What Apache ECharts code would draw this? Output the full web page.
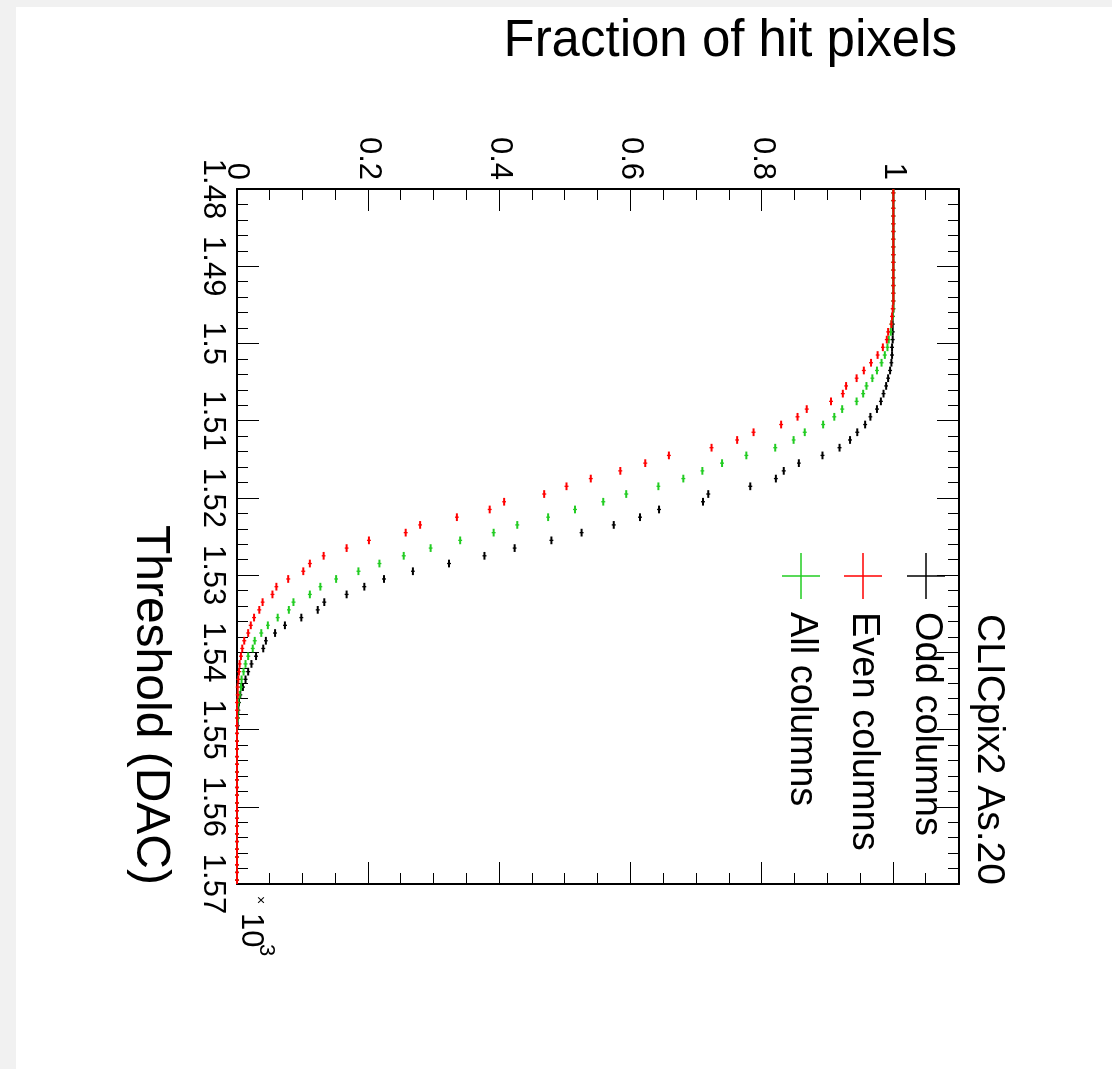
<!DOCTYPE html>
<html>
<head>
<meta charset="utf-8">
<title>Fraction of hit pixels</title>
<script src="https://cdn.jsdelivr.net/npm/echarts@6.0.0/dist/echarts.min.js"></script>
<style>
    html, body { margin: 0; padding: 0; background: #f1f1f1; }
    /* white ROOT canvas with the grey window edge left and top */
    #pad { position: absolute; left: 16px; top: 7px; width: 1096px; height: 1062px; background: #fff; overflow: hidden; }
    /* the plot is drawn upright, then turned 90deg clockwise like the original */
    #threshold-chart-1 {
        position: absolute; left: 0; top: 0;
        width: 1062px; height: 1096px;
        transform-origin: 0 0;
        transform: translate(1096px, 0) rotate(90deg);
    }
</style>
</head>
<body>
<div id="pad"><div id="threshold-chart-1"></div></div>
<script>
// Threshold scan, CLICpix2 As.20

// bin centres (DAC)
const thresholds = [
    1480.5, 1481.5, 1482.5, 1483.5, 1484.5, 1485.5, 1486.5, 1487.5, 1488.5, 1489.5,
    1490.5, 1491.5, 1492.5, 1493.5, 1494.5, 1495.5, 1496.5, 1497.5, 1498.5, 1499.5,
    1500.5, 1501.5, 1502.5, 1503.5, 1504.5, 1505.5, 1506.5, 1507.5, 1508.5, 1509.5,
    1510.5, 1511.5, 1512.5, 1513.5, 1514.5, 1515.5, 1516.5, 1517.5, 1518.5, 1519.5,
    1520.5, 1521.5, 1522.5, 1523.5, 1524.5, 1525.5, 1526.5, 1527.5, 1528.5, 1529.5,
    1530.5, 1531.5, 1532.5, 1533.5, 1534.5, 1535.5, 1536.5, 1537.5, 1538.5, 1539.5,
    1540.5, 1541.5, 1542.5, 1543.5, 1544.5, 1545.5, 1546.5, 1547.5, 1548.5, 1549.5,
    1550.5, 1551.5, 1552.5, 1553.5, 1554.5, 1555.5, 1556.5, 1557.5, 1558.5, 1559.5,
    1560.5, 1561.5, 1562.5, 1563.5, 1564.5, 1565.5, 1566.5, 1567.5, 1568.5, 1569.5
];

// fraction of hit pixels per bin
const oddColumns = [
    1, 1, 1, 1, 1, 1, 1, 1, 1, 1,
    1, 1, 1, 1, 1, 1, 0.999, 0.999, 0.999, 0.999,
    0.998, 0.998, 0.997, 0.995, 0.992, 0.989, 0.985, 0.981, 0.975, 0.965,
    0.957, 0.945, 0.934, 0.918, 0.892, 0.856, 0.833, 0.821, 0.782, 0.718,
    0.710, 0.643, 0.614, 0.574, 0.525, 0.479, 0.423, 0.377, 0.323, 0.268,
    0.224, 0.194, 0.167, 0.133, 0.123, 0.098, 0.073, 0.058, 0.044, 0.040,
    0.029, 0.022, 0.017, 0.013, 0.009, 0.005, 0.003, 0.002, 0.001, 0.001,
    0, 0, 0, 0, 0, 0, 0, 0, 0, 0,
    0, 0, 0, 0, 0, 0, 0, 0, 0, 0
];
const evenColumns = [
    1, 1, 1, 1, 1, 1, 1, 1, 1, 1,
    1, 1, 1, 1, 1, 0.999, 0.998, 0.997, 0.992, 0.990,
    0.984, 0.976, 0.966, 0.955, 0.944, 0.928, 0.923, 0.905, 0.868, 0.854,
    0.829, 0.787, 0.762, 0.723, 0.658, 0.622, 0.584, 0.539, 0.502, 0.468,
    0.407, 0.385, 0.335, 0.279, 0.257, 0.201, 0.167, 0.132, 0.111, 0.101,
    0.078, 0.060, 0.054, 0.039, 0.034, 0.026, 0.021, 0.017, 0.011, 0.008,
    0.006, 0.004, 0.003, 0.002, 0.001, 0.001, 0, 0, 0, 0,
    0, 0, 0, 0, 0, 0, 0, 0, 0, 0,
    0, 0, 0, 0, 0, 0, 0, 0, 0, 0
];
const allColumns = [
    1, 1, 1, 1, 1, 1, 1, 1, 1, 1,
    1, 1, 1, 1, 1, 1, 0.999, 0.997, 0.996, 0.993,
    0.991, 0.987, 0.982, 0.975, 0.968, 0.959, 0.954, 0.944, 0.922, 0.910,
    0.893, 0.865, 0.848, 0.820, 0.776, 0.739, 0.709, 0.680, 0.642, 0.593,
    0.558, 0.515, 0.474, 0.427, 0.391, 0.340, 0.295, 0.254, 0.217, 0.185,
    0.151, 0.127, 0.111, 0.086, 0.079, 0.062, 0.047, 0.037, 0.027, 0.024,
    0.017, 0.013, 0.010, 0.007, 0.006, 0.004, 0.002, 0.001, 0.001, 0,
    0, 0, 0, 0, 0, 0, 0, 0, 0, 0,
    0, 0, 0, 0, 0, 0, 0, 0, 0, 0
];

const seriesNames = ['Odd columns', 'Even columns', 'All columns'];
const seriesColors = ['#000000', '#ff0000', '#22cc22'];
const legendHeader = 'CLICpix2 As.20';

const binHalf = 0.5;     // half bin width (DAC)
const fracErr = 0.003;   // small error bar on the fraction

const FONT = '"Liberation Sans", Arial, Helvetica, sans-serif';

// one "+" per bin: bin width along x, error bar along y
function renderBin(params, api) {
    const t = api.value(0), f = api.value(1);
    const a = api.coord([t - binHalf, f]);
    const b = api.coord([t + binHalf, f]);
    const lo = api.coord([t, f - fracErr]);
    const hi = api.coord([t, f + fracErr]);
    const style = { stroke: api.visual('color'), lineWidth: 2 };
    return {
        type: 'group',
        children: [
            { type: 'line', shape: { x1: a[0], y1: a[1], x2: b[0], y2: b[1] }, style: style },
            { type: 'line', shape: { x1: lo[0], y1: lo[1], x2: hi[0], y2: hi[1] }, style: { stroke: api.visual('color'), lineWidth: 1.3 } }
        ]
    };
}

function makeSeries(name, values, color) {
    return {
        type: 'custom',
        name: name,
        xAxisIndex: 0,
        yAxisIndex: 0,
        renderItem: renderBin,
        itemStyle: { color: color },
        data: thresholds.map((t, i) => [t, values[i]]),
        silent: true
    };
}

const axisLine = { show: true, onZero: false, lineStyle: { color: '#000', width: 2 } };

function thresholdAxis(position, showLabels) {
    return {
        type: 'value', position: position,
        min: 1480, max: 1570, interval: 10,
        axisLine: axisLine,
        axisTick: { show: true, inside: true, length: 22, lineStyle: { color: '#000', width: 1 } },
        minorTick: { show: true, splitNumber: 5, length: 11, lineStyle: { color: '#000', width: 1 } },
        axisLabel: {
            show: showLabels, margin: 9, color: '#000', fontSize: 31, fontFamily: FONT,
            formatter: v => String(v / 1000)
        },
        splitLine: { show: false }
    };
}

function fractionAxis(position, major, showLabels) {
    return {
        type: 'value', position: position,
        min: 0, max: 1.1, interval: major ? 0.2 : 0.05,
        axisLine: major ? axisLine : { show: false },
        axisTick: { show: true, inside: true, length: major ? 22 : 11, lineStyle: { color: '#000', width: 1 } },
        axisLabel: {
            show: showLabels, margin: 9, color: '#000', fontSize: 31, fontFamily: FONT,
            showMaxLabel: false,
            formatter: v => String(Math.round(v * 10) / 10)
        },
        splitLine: { show: false }
    };
}

// legend, drawn by hand like the TLegend
function legendItems() {
    const items = [{
        type: 'text', x: 607, y: 123,
        style: { text: legendHeader, fontSize: 39, fontFamily: FONT, fill: '#000', align: 'left', verticalAlign: 'middle' }
    }];
    const rows = [186, 249, 311];
    rows.forEach((y, i) => {
        items.push({ type: 'line', shape: { x1: 546, y1: y, x2: 592, y2: y }, style: { stroke: seriesColors[i], lineWidth: 1.5 } });
        items.push({ type: 'line', shape: { x1: 569, y1: y - 19, x2: 569, y2: y + 19 }, style: { stroke: seriesColors[i], lineWidth: 1.5 } });
        items.push({
            type: 'text', x: 605, y: y,
            style: { text: seriesNames[i], fontSize: 38, fontFamily: FONT, fill: '#000', align: 'left', verticalAlign: 'middle' }
        });
    });
    return items;
}

const chart = echarts.init(document.getElementById('threshold-chart-1'));

const option = {
    animation: false,
    backgroundColor: '#fff',
    grid: { left: 182, top: 153, width: 695, height: 722, containLabel: false },
    xAxis: [thresholdAxis('bottom', true), thresholdAxis('top', false)],
    yAxis: [
        fractionAxis('left', true, true),
        fractionAxis('left', false, false),
        fractionAxis('right', true, false),
        fractionAxis('right', false, false)
    ],
    series: [
        makeSeries(seriesNames[0], oddColumns, seriesColors[0]),
        makeSeries(seriesNames[2], allColumns, seriesColors[2]),
        makeSeries(seriesNames[1], evenColumns, seriesColors[1])
    ],
    graphic: [
        // axis titles
        {
            type: 'text', x: 35, y: 155, rotation: Math.PI / 2,
            style: { text: 'Fraction of hit pixels', fontSize: 51, fontFamily: FONT, fill: '#000', align: 'right', verticalAlign: 'middle' }
        },
        {
            type: 'text', x: 878, y: 962,
            style: { text: 'Threshold (DAC)', fontSize: 48, fontFamily: FONT, fill: '#000', align: 'right', verticalAlign: 'middle' }
        },
        // x10^3 exponent
        { type: 'text', x: 889, y: 852, style: { text: '×', fontSize: 14, fontFamily: FONT, fill: '#000', align: 'left', verticalAlign: 'middle' } },
        { type: 'text', x: 906, y: 861, style: { text: '10', fontSize: 31, fontFamily: FONT, fill: '#000', align: 'left', verticalAlign: 'middle' } },
        { type: 'text', x: 937, y: 846, style: { text: '3', fontSize: 22, fontFamily: FONT, fill: '#000', align: 'left', verticalAlign: 'middle' } }
    ].concat(legendItems())
};

chart.setOption(option);
</script>
</body>
</html>
